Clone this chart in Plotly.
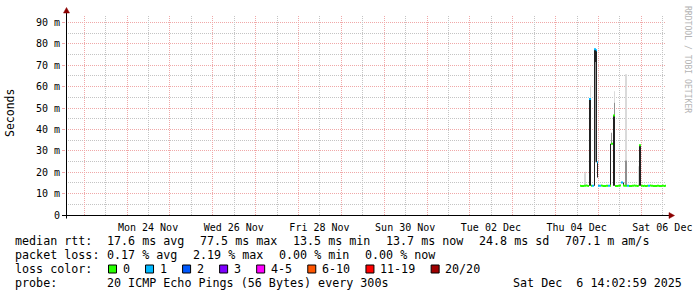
import math
import pandas as pd
import plotly.graph_objects as go

# ---------------- data ----------------
graph_start = "2025-11-22 14:03:00"
graph_end = "2025-12-06 14:03:00"
first_sample = "2025-12-04 13:53:24"
sample_seconds = 2016

# median rtt per consolidated sample (ms)
median_rtt_ms = [
    13.7, 13.5, 13.6, 13.5, 13.7, 13.7, 13.8, 13.7, 13.6, 54.2,
    54.2, 13.7, 13.7, 13.7, 77.5, 77.5, 77.0, 24.7, 13.7, 13.7,
    13.7, 13.8, 13.7, 13.6, 13.5, 13.6, 13.7, 13.7, 13.7, 13.7,
    13.7, 33.3, 33.3, 46.5, 46.5, 13.6, 13.5, 13.6, 13.7, 13.7,
    13.8, 15.2, 15.2, 13.8, 13.7, 13.7, 13.7, 13.7, 13.7, 13.6,
    13.5, 13.6, 13.7, 13.7, 13.8, 13.7, 13.7, 13.6, 13.7, 32.6,
    32.6, 13.7, 13.7, 13.6, 13.7, 13.5, 13.5, 13.7, 13.7, 13.7,
    13.8, 13.7, 13.7, 13.5, 13.5, 13.6, 13.5, 13.7, 13.7, 13.5,
    13.5, 13.5, 13.7, 13.7, 13.6, 13.7,
]
# lost pings (of 20) per sample
lost_pings = [
    0, 0, 0, 0, 0, 0, 0, 0, 0, 1,
    1, 0, 1, 1, 1, 1, 1, 1, 1, 1,
    1, 0, 0, 0, 0, 0, 0, 0, 1, 1,
    0, 0, 0, 0, 0, 0, 0, 0, 0, 0,
    0, 1, 1, 0, 0, 0, 0, 1, 1, 0,
    0, 0, 0, 0, 0, 0, 0, 0, 0, 0,
    0, 0, 0, 0, 0, 0, 0, 0, 1, 1,
    0, 0, 0, 0, 0, 0, 0, 0, 0, 0,
    0, 0, 0, 0, 0, 0,
]
# smoke (ping spread) segments: sample index, low, high (ms), density 0..2
smoke_sample = [4, 5, 9, 10, 10, 14, 15, 15, 16, 17, 30, 31, 33, 34, 34, 34, 43, 45, 45, 46, 46, 58, 59, 60]
smoke_low_ms = [13.7, 13.7, 13.7, 13.7, 54.2, 13.7, 71.5, 24.7, 24.7, 17.5, 13.7, 33.3,
                13.7, 13.7, 46.5, 52.5, 13.7, 13.7, 25.5, 13.7, 25.5, 13.7, 13.7, 13.7]
smoke_high_ms = [19.5, 20.2, 54.2, 54.2, 60.5, 77.5, 77.5, 71.5, 77.0, 24.7, 33.3, 38.5,
                 46.5, 46.5, 52.5, 57.8, 15.2, 25.5, 65.8, 25.5, 65.8, 22.8, 32.6, 32.6]
smoke_density = [0, 0, 2, 2, 0, 2, 2, 1, 2, 2, 2, 1, 2, 2, 1, 0, 2, 1, 0, 1, 0, 0, 2, 2]

loss_labels = ["0", "1", "2", "3", "4-5", "6-10", "11-19", "20/20"]
loss_upper = [0, 1, 2, 3, 5, 10, 19, 20]

y_tick_ms = [0, 10, 20, 30, 40, 50, 60, 70, 80, 90]
y_tick_text = ["0", "10 m", "20 m", "30 m", "40 m", "50 m", "60 m", "70 m", "80 m", "90 m"]
y_minor_ms = [5, 15, 25, 35, 45, 55, 65, 75, 85]
day_label_times = ["2025-11-24 12:00", "2025-11-26 12:00", "2025-11-28 12:00", "2025-11-30 12:00",
                   "2025-12-02 12:00", "2025-12-04 12:00", "2025-12-06 12:00"]
day_labels = ["Mon 24 Nov", "Wed 26 Nov", "Fri 28 Nov", "Sun 30 Nov", "Tue 02 Dec", "Thu 04 Dec", "Sat 06 Dec"]

rtt_label = "median rtt:"
rtt_stats = ["17.6 ms avg", "77.5 ms max", "13.5 ms min", "13.7 ms now", "24.8 ms sd", "707.1 m am/s"]
loss_label = "packet loss:"
loss_stats = ["0.17 % avg", "2.19 % max", "0.00 % min", "0.00 % now"]
color_label = "loss color:"
probe_label = "probe:"
probe_text = "20 ICMP Echo Pings (56 Bytes) every 300s"
stamp_text = "Sat Dec  6 14:02:59 2025"
y_title = "Seconds"
watermark = "RRDTOOL / TOBI OETIKER"

# ---------------- styles ----------------
loss_colors = ["#26ff00", "#00b8ff", "#0059ff", "#7e00ff", "#ff00ff", "#ff5500", "#ff0000", "#a00000"]
smoke_colors = {0: "#dadada", 1: "#8f8f8f", 2: "#222222"}
MONO = "DejaVu Sans Mono"
W, H = 697, 297
L, R, T, B = 66, 31, 15, 82
PW, PH = W - L - R, H - T - B
Y_MAX_MS = 93.5
BAND_MS = Y_MAX_MS / PH  # half width of median band (1px)
MAJ = "rgb(240,168,168)"
MIN = "rgb(196,196,196)"
DOT = "1px,1px"
ARROW = "#8b0000"


def pxx(x):
    return (x - L) / PW


def pxy(y):
    return (T + PH - y) / PH


step = pd.Timedelta(seconds=sample_seconds)
t0 = pd.Timestamp(first_sample)
n = len(median_rtt_ms)
sample_t = [t0 + i * step for i in range(n + 1)]
g0, g1 = pd.Timestamp(graph_start), pd.Timestamp(graph_end)
span = (g1 - g0).total_seconds()


def fmt(t):
    return t.strftime("%Y-%m-%d %H:%M:%S")


def column_polys(idx, lows, highs):
    xs, ys = [], []
    for i, lo, hi in zip(idx, lows, highs):
        a, b = fmt(sample_t[i]), fmt(sample_t[i + 1])
        xs += [a, b, b, a, a, None]
        ys += [lo / 1000, lo / 1000, hi / 1000, hi / 1000, lo / 1000, None]
    return xs, ys


fig = go.Figure()

# smoke
for lvl in (0, 1, 2):
    sel = [k for k, d in enumerate(smoke_density) if d == lvl]
    xs, ys = column_polys([smoke_sample[k] for k in sel], [smoke_low_ms[k] for k in sel],
                          [smoke_high_ms[k] for k in sel])
    fig.add_trace(go.Scatter(x=xs, y=ys, fill="toself", fillcolor=smoke_colors[lvl], mode="none",
                             hoverinfo="skip", showlegend=False))


def loss_bucket(v):
    for b, up in enumerate(loss_upper):
        if v <= up:
            return b
    return len(loss_upper) - 1


buckets = [loss_bucket(v) for v in lost_pings]
for b, col in enumerate(loss_colors):
    idx = [i for i in range(n) if buckets[i] == b]
    if not idx:
        continue
    xs, ys = column_polys(idx, [median_rtt_ms[i] - BAND_MS for i in idx],
                          [median_rtt_ms[i] + BAND_MS for i in idx])
    fig.add_trace(go.Scatter(x=xs, y=ys, fill="toself", fillcolor=col, mode="none",
                             hoverinfo="skip", showlegend=False))

fig.update_layout(
    width=W, height=H, margin=dict(l=L, r=R, t=T, b=B, autoexpand=False),
    paper_bgcolor="white", plot_bgcolor="white", showlegend=False,
    font=dict(family=MONO, size=10, color="#000000"),
    xaxis=dict(type="date", range=[graph_start, graph_end], tickmode="array",
               tickvals=day_label_times, ticktext=day_labels, showgrid=False,
               ticks="outside", ticklen=3, tickcolor="rgba(0,0,0,0)", showline=False, zeroline=False,
               tickfont=dict(family=MONO, size=10, color="#000000"), fixedrange=True),
    yaxis=dict(range=[0, Y_MAX_MS / 1000], tickmode="array", tickvals=[v / 1000 for v in y_tick_ms],
               ticktext=y_tick_text, showgrid=False, ticks="outside", ticklen=3, tickcolor=MAJ,
               showline=False, zeroline=False, tickfont=dict(family=MONO, size=10, color="#000000"),
               fixedrange=True),
)

shapes = []


# grid lines, snapped to pixel rows/columns like rrdtool
def hline(v_ms, color):
    yp = math.floor(T + PH - v_ms / Y_MAX_MS * PH) + 0.5
    shapes.append(dict(type="line", xref="paper", yref="paper", x0=0, x1=1, y0=pxy(yp), y1=pxy(yp),
                       layer="below", line=dict(color=color, width=1, dash=DOT)))


def vline(t, color):
    xp = round(L + (t - g0).total_seconds() / span * PW) + 0.5
    shapes.append(dict(type="line", xref="paper", yref="paper", x0=pxx(xp), x1=pxx(xp), y0=0, y1=1,
                       layer="below", line=dict(color=color, width=1, dash=DOT)))


for v in y_minor_ms:
    hline(v, MIN)
for v in y_tick_ms[1:]:
    hline(v, MAJ)
for t in pd.date_range("2025-11-23 12:00", "2025-12-06 12:00", freq="D"):
    vline(t, MIN)
for t in pd.date_range("2025-11-23", "2025-12-06", freq="D"):
    vline(t, MAJ)

# axes lines with arrows
shapes.append(dict(type="line", xref="paper", yref="paper", x0=pxx(62), x1=pxx(670), y0=pxy(215.5), y1=pxy(215.5),
                   line=dict(color="black", width=1)))
shapes.append(dict(type="line", xref="paper", yref="paper", x0=pxx(66.5), x1=pxx(66.5), y0=pxy(218.5), y1=pxy(12),
                   line=dict(color="black", width=1)))
shapes.append(dict(type="path", xref="paper", yref="paper",
                   path=f"M {pxx(669)} {pxy(212.5)} L {pxx(674.5)} {pxy(215.5)} L {pxx(669)} {pxy(218.5)} Z",
                   fillcolor=ARROW, line=dict(color=ARROW, width=0.5)))
shapes.append(dict(type="path", xref="paper", yref="paper",
                   path=f"M {pxx(63.5)} {pxy(13)} L {pxx(66.5)} {pxy(7.5)} L {pxx(69.5)} {pxy(13)} Z",
                   fillcolor=ARROW, line=dict(color=ARROW, width=0.5)))

ann = []
LEG_SIZE = 11.7
CW = 7.04
GAP = 15.6
ROWS = [241, 255, 269, 283]


def text_at(x, y, s, size=LEG_SIZE, anchor="left", color="#000000", angle=0):
    ann.append(dict(xref="paper", yref="paper", x=pxx(x), y=pxy(y), text=s.replace(" ", "\u00a0"),
                    showarrow=False, xanchor=anchor, yanchor="middle", borderpad=0, borderwidth=0,
                    textangle=angle, font=dict(family=MONO, size=size, color=color)))


LX = 15.3
VX = 106.8
text_at(LX, ROWS[0], rtt_label)
x = VX
for s in rtt_stats:
    text_at(x, ROWS[0], s)
    x += len(s) * CW + GAP
text_at(LX, ROWS[1], loss_label)
x = VX
for s in loss_stats:
    text_at(x, ROWS[1], s)
    x += len(s) * CW + GAP
text_at(LX, ROWS[2], color_label)
bx = 108
for lab, col in zip(loss_labels, loss_colors):
    shapes.append(dict(type="rect", xref="paper", yref="paper", x0=pxx(bx + 0.5), x1=pxx(bx + 8.5),
                       y0=pxy(ROWS[2] - 4), y1=pxy(ROWS[2] + 4), fillcolor=col, line=dict(color="black", width=1)))
    lx = bx + 14.5
    text_at(lx, ROWS[2], lab)
    bx = lx + len(lab) * CW + 15.5
text_at(LX, ROWS[3], probe_label)
text_at(VX, ROWS[3], probe_text)
text_at(681.5, ROWS[3], stamp_text, anchor="right")

# y title and watermark
ann.append(dict(xref="paper", yref="paper", x=pxx(10), y=pxy(113), text=y_title, showarrow=False,
                textangle=-90, xanchor="center", yanchor="middle", font=dict(family=MONO, size=11.5, color="#000000")))
ann.append(dict(xref="paper", yref="paper", x=pxx(688), y=pxy(59), text=watermark.replace(" ", "\u00a0"),
                showarrow=False, textangle=90, xanchor="center", yanchor="middle",
                font=dict(family=MONO, size=8.1, color="#b4b4b4")))

fig.update_layout(shapes=shapes, annotations=ann)
fig.write_html("out.html")
